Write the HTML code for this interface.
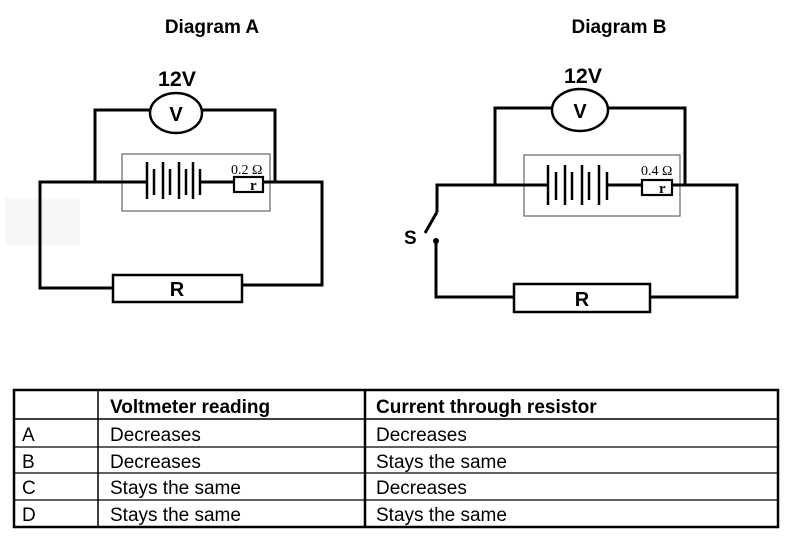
<!DOCTYPE html>
<html><head><style>
body{margin:0;background:#fff;}
svg{display:block;}
text{font-family:"Liberation Sans",Arial,sans-serif;}
</style></head><body>
<svg width="789" height="537" viewBox="0 0 789 537" xmlns="http://www.w3.org/2000/svg">
<rect x="5" y="198" width="75" height="47" fill="#f7f7f7"/>
<text x="212" y="33" font-size="19" font-weight="bold" text-anchor="middle">Diagram A</text>
<text x="619" y="33" font-size="19" font-weight="bold" text-anchor="middle">Diagram B</text>

<!-- Diagram A -->
<g stroke="#000" stroke-width="3" fill="none">
<text x="177" y="86" font-size="21" font-weight="bold" text-anchor="middle" fill="#000" stroke="none" textLength="38" lengthAdjust="spacingAndGlyphs">12V</text>
<ellipse cx="176" cy="113" rx="26" ry="20" stroke-width="2.5"/>
<text x="176" y="121" font-size="20" font-weight="bold" text-anchor="middle" fill="#000" stroke="none">V</text>
<polyline points="150,110 95,110 95,182"/>
<polyline points="202,110 275,110 275,182"/>
<rect x="122" y="154" width="148" height="57" stroke="#666" stroke-width="1.2"/>
<polyline points="147,182 40,182 40,288 113,288"/>
<line x1="200" y1="182" x2="234" y2="182"/>
<polyline points="263,182 322,182 322,285 242,285"/>
<g stroke-width="2.5">
<line x1="147" y1="162" x2="147" y2="199"/><line x1="154" y1="169" x2="154" y2="195"/>
<line x1="163" y1="162" x2="163" y2="199"/><line x1="170" y1="169" x2="170" y2="195"/>
<line x1="179" y1="162" x2="179" y2="199"/><line x1="186" y1="169" x2="186" y2="195"/>
<line x1="193" y1="162" x2="193" y2="199"/><line x1="200" y1="169" x2="200" y2="195"/>
</g>
<rect x="234" y="177" width="29" height="15" stroke-width="2.2"/>
<text x="250" y="190" font-size="15" style="font-family:'Liberation Serif',serif" font-weight="bold" fill="#000" stroke="none">r</text>
<text x="231" y="174" font-size="14" style="font-family:'Liberation Serif',serif" fill="#000" stroke="none">0.2 Ω</text>
<rect x="113" y="275" width="129" height="27" stroke-width="2.5"/>
<text x="177" y="296" font-size="20" font-weight="bold" text-anchor="middle" fill="#000" stroke="none">R</text>
</g>

<!-- Diagram B -->
<g stroke="#000" stroke-width="3" fill="none">
<text x="583" y="83" font-size="21" font-weight="bold" text-anchor="middle" fill="#000" stroke="none" textLength="38" lengthAdjust="spacingAndGlyphs">12V</text>
<ellipse cx="580" cy="110" rx="28" ry="21" stroke-width="2.5"/>
<text x="580" y="118" font-size="20" font-weight="bold" text-anchor="middle" fill="#000" stroke="none">V</text>
<polyline points="552,108 495,108 495,185"/>
<polyline points="608,108 685,108 685,185"/>
<rect x="524" y="155" width="156" height="61" stroke="#666" stroke-width="1.2"/>
<polyline points="548,185 437,185 437,212"/>
<line x1="437" y1="212" x2="425" y2="233"/>
<circle cx="436" cy="241" r="3" fill="#000" stroke="none"/>
<polyline points="436,241 436,297 514,297"/>
<line x1="607" y1="185" x2="642" y2="185"/>
<polyline points="672,185 737,185 737,297 650,297"/>
<g stroke-width="2.5">
<line x1="548" y1="165" x2="548" y2="205"/><line x1="556" y1="172" x2="556" y2="200"/>
<line x1="565" y1="165" x2="565" y2="205"/><line x1="572" y1="172" x2="572" y2="200"/>
<line x1="582" y1="165" x2="582" y2="205"/><line x1="589" y1="172" x2="589" y2="200"/>
<line x1="599" y1="165" x2="599" y2="205"/><line x1="607" y1="172" x2="607" y2="200"/>
</g>
<rect x="642" y="180" width="30" height="15" stroke-width="2.2"/>
<text x="659" y="193" font-size="15" style="font-family:'Liberation Serif',serif" font-weight="bold" fill="#000" stroke="none">r</text>
<text x="641" y="175" font-size="14" style="font-family:'Liberation Serif',serif" fill="#000" stroke="none">0.4 Ω</text>
<rect x="514" y="284" width="136" height="28" stroke-width="2.5"/>
<text x="582" y="306" font-size="20" font-weight="bold" text-anchor="middle" fill="#000" stroke="none">R</text>
<text x="404" y="244" font-size="19" font-weight="bold" fill="#000" stroke="none">S</text>
</g>

<!-- Table -->
<g stroke="#000" fill="none">
<rect x="14" y="390" width="764" height="137" stroke-width="2.5"/>
<line x1="98" y1="390" x2="98" y2="527" stroke-width="1.5"/>
<line x1="365" y1="390" x2="365" y2="527" stroke-width="2.5"/>
<line x1="14" y1="419" x2="778" y2="419" stroke-width="1.5"/>
<line x1="14" y1="447" x2="778" y2="447" stroke-width="1.2"/>
<line x1="14" y1="473" x2="778" y2="473" stroke-width="1.2"/>
<line x1="14" y1="500" x2="778" y2="500" stroke-width="1.2"/>
</g>
<g font-size="19" fill="#000">
<text x="110" y="413" font-weight="bold">Voltmeter reading</text>
<text x="376" y="413" font-weight="bold">Current through resistor</text>
<text x="22" y="441">A</text><text x="110" y="441">Decreases</text><text x="376" y="441">Decreases</text>
<text x="22" y="468">B</text><text x="110" y="468">Decreases</text><text x="376" y="468">Stays the same</text>
<text x="22" y="494">C</text><text x="110" y="494">Stays the same</text><text x="376" y="494">Decreases</text>
<text x="22" y="521">D</text><text x="110" y="521">Stays the same</text><text x="376" y="521">Stays the same</text>
</g>
</svg>
</body></html>
